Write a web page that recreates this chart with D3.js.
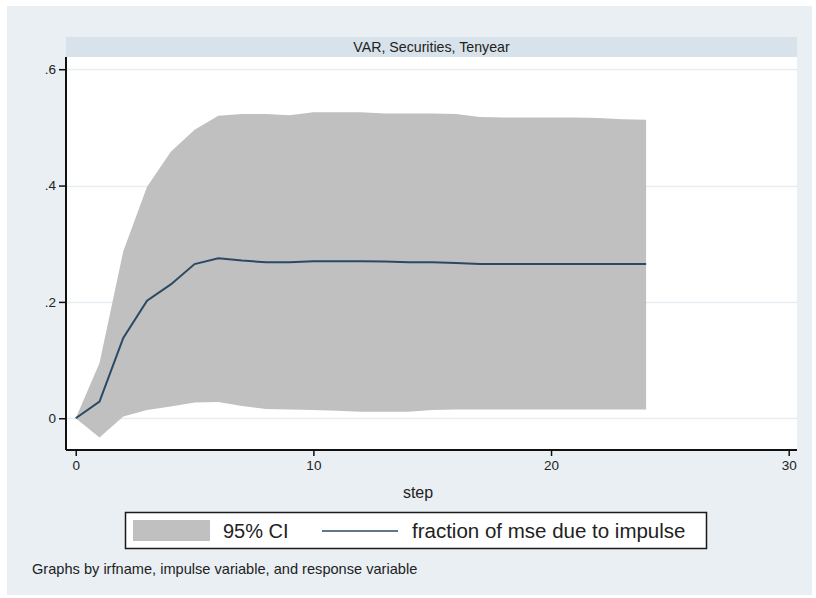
<!DOCTYPE html>
<html>
<head>
<meta charset="utf-8">
<script src="https://cdn.jsdelivr.net/npm/d3@7"></script>
<style>
  html, body { margin: 0; padding: 0; background: #ffffff; }
  svg { display: block; }
  text { font-family: "Liberation Sans", Arial, sans-serif; fill: #222; }
</style>
</head>
<body>
<svg id="chart" width="816" height="598"></svg>
<script>
// Forecast-error variance decomposition: impulse Securities, response Tenyear
const steps   = [0, 1, 2, 3, 4, 5, 6, 7, 8, 9, 10, 11, 12, 13, 14, 15, 16, 17, 18, 19, 20, 21, 22, 23, 24];
const fevd    = [0, 0.0285, 0.138, 0.202, 0.230, 0.265, 0.275, 0.271, 0.268, 0.268, 0.270, 0.270, 0.270, 0.2695, 0.268, 0.268, 0.267, 0.265, 0.265, 0.265, 0.265, 0.265, 0.265, 0.265, 0.265];
const ciLower = [0, -0.033, 0.003, 0.014, 0.020, 0.027, 0.028, 0.021, 0.016, 0.015, 0.014, 0.013, 0.011, 0.011, 0.011, 0.014, 0.015, 0.015, 0.015, 0.015, 0.015, 0.015, 0.015, 0.015, 0.015];
const ciUpper = [0, 0.095, 0.287, 0.398, 0.458, 0.496, 0.520, 0.523, 0.523, 0.521, 0.526, 0.526, 0.526, 0.524, 0.524, 0.524, 0.523, 0.518, 0.517, 0.517, 0.517, 0.517, 0.516, 0.514, 0.513];

const yTicks = [0, 0.2, 0.4, 0.6];
const yTickLabels = ["0", ".2", ".4", ".6"];
const xTicks = [0, 10, 20, 30];
const xTickLabels = ["0", "10", "20", "30"];

const panelTitle = "VAR, Securities, Tenyear";
const xTitle = "step";
const legendLabels = ["95% CI", "fraction of mse due to impulse"];
const note = "Graphs by irfname, impulse variable, and response variable";

const svg = d3.select("#chart");

// plot region
const L = 66, R = 797, T = 57, B = 450;

const x = d3.scaleLinear().domain([-0.41, 30.35]).range([L, R]);
const y = d3.scaleLinear().domain([-0.0546, 0.621]).range([B, T]);

// graph region background
svg.append("rect").attr("x", 7).attr("y", 6).attr("width", 805).attr("height", 589)
  .attr("fill", "#e9eff3");

// by-group title strip
svg.append("rect").attr("x", L).attr("y", 37).attr("width", R - L).attr("height", 20)
  .attr("fill", "#d7e2ea");
svg.append("text").attr("x", (L + R) / 2).attr("y", 52)
  .attr("text-anchor", "middle").attr("font-size", 14.2).text(panelTitle);

// plot area
svg.append("rect").attr("x", L).attr("y", T).attr("width", R - L).attr("height", B - T)
  .attr("fill", "#ffffff");

// horizontal grid
svg.append("g").selectAll("line").data(yTicks).join("line")
  .attr("x1", L).attr("x2", R)
  .attr("y1", d => Math.round(y(d)) + 0.5).attr("y2", d => Math.round(y(d)) + 0.5)
  .attr("stroke", "#e6edf2").attr("stroke-width", 1.5);

const rows = steps.map((s, i) => ({ s, v: fevd[i], lo: ciLower[i], hi: ciUpper[i] }));

// confidence band
svg.append("path").datum(rows)
  .attr("d", d3.area().x(d => x(d.s)).y0(d => y(d.lo)).y1(d => y(d.hi)))
  .attr("fill", "#c0c0c0");

// point estimate
svg.append("path").datum(rows)
  .attr("d", d3.line().x(d => x(d.s)).y(d => y(d.v)))
  .attr("fill", "none").attr("stroke", "#2b4963").attr("stroke-width", 2);

// axes
const yAxis = svg.append("g").attr("transform", `translate(${L},0)`)
  .call(d3.axisLeft(y).tickValues(yTicks).tickSize(7).tickPadding(3)
    .tickFormat((d, i) => yTickLabels[i]));
const xAxis = svg.append("g").attr("transform", `translate(0,${B})`)
  .call(d3.axisBottom(x).tickValues(xTicks).tickSize(6).tickPadding(4)
    .tickFormat((d, i) => xTickLabels[i]));

[yAxis, xAxis].forEach(g => {
  g.select(".domain").attr("stroke", "#111").attr("stroke-width", 2);
  g.selectAll(".tick line").attr("stroke", "#111").attr("stroke-width", 1.5);
  g.selectAll(".tick text").attr("font-size", 13.5)
    .attr("font-family", "'Liberation Sans', Arial, sans-serif").attr("fill", "#222");
});
yAxis.select(".domain").attr("d", `M0,${T}V${B}`);
xAxis.select(".domain").attr("d", `M${L},0H${R}`);

// axis title
svg.append("text").attr("x", 418).attr("y", 498)
  .attr("text-anchor", "middle").attr("font-size", 16).text(xTitle);

// legend
const lg = svg.append("g");
lg.append("rect").attr("x", 125.5).attr("y", 512.5).attr("width", 581).attr("height", 36)
  .attr("fill", "#ffffff").attr("stroke", "#1a1a1a").attr("stroke-width", 1.5);
lg.append("rect").attr("x", 133).attr("y", 520).attr("width", 77).attr("height", 21)
  .attr("fill", "#c0c0c0");
lg.append("text").attr("x", 223).attr("y", 538).attr("font-size", 20).text(legendLabels[0]);
lg.append("line").attr("x1", 322).attr("x2", 398).attr("y1", 531).attr("y2", 531)
  .attr("stroke", "#2b4963").attr("stroke-width", 1.5);
lg.append("text").attr("x", 412).attr("y", 538).attr("font-size", 20.5).text(legendLabels[1]);

// note
svg.append("text").attr("x", 32).attr("y", 574).attr("font-size", 14.6).text(note);
</script>
</body>
</html>
